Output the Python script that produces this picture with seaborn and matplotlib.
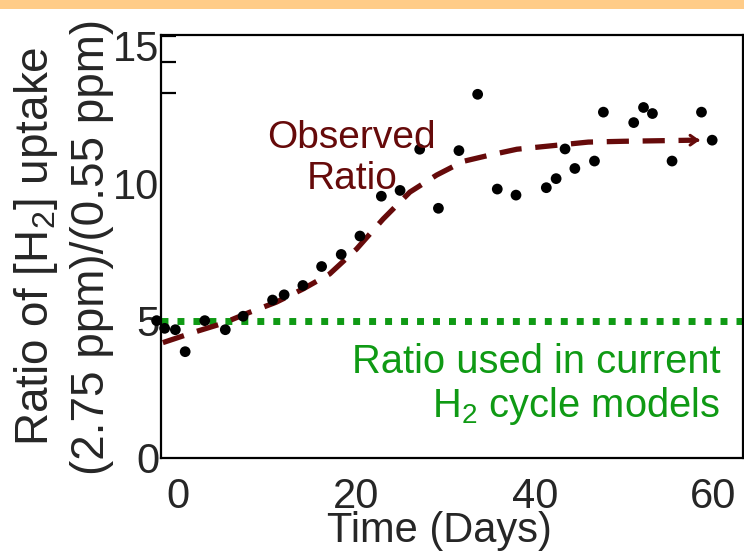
import numpy as np
import pandas as pd
import matplotlib
matplotlib.use("Agg")
import matplotlib.pyplot as plt
from matplotlib.patches import Rectangle
import seaborn as sns

# observed ratios (days, ratio)
days = [-2.4, -1.5, -0.3, 0.8, 3.0, 5.3, 7.3, 10.6, 11.9, 14.0, 16.1, 18.3, 20.4,
        22.8, 24.9, 27.1, 29.2, 31.5, 33.6, 35.8, 37.9, 41.3, 42.4, 43.4, 44.5,
        46.7, 47.7, 51.1, 52.2, 53.2, 55.4, 58.7, 59.9]
ratio = [5.0, 4.72, 4.67, 3.87, 5.0, 4.67, 5.16, 5.75, 5.94, 6.28, 6.97, 7.41, 8.08,
         9.53, 9.74, 11.24, 9.09, 11.19, 13.24, 9.79, 9.57, 9.84, 10.17, 11.25, 10.54,
         10.81, 12.59, 12.21, 12.76, 12.54, 10.81, 12.59, 11.57]

# fitted trend
fit_days = [-1.7, 2, 5, 8, 11, 14, 17, 20, 23, 26, 29, 32, 35, 38, 42, 46, 50, 54, 58]
fit_ratio = [4.2, 4.6, 4.9, 5.3, 5.67, 6.15, 6.7, 7.6, 8.7, 9.68, 10.3, 10.8, 11.03,
             11.24, 11.37, 11.5, 11.53, 11.55, 11.57]

model_ratio = 5.0
xticks = [0, 20, 40, 60]
yticks = [0, 5, 10, 15]

maroon = "#660a0a"
green = "#0f9a14"

sns.set_style("white")
plt.rcParams['font.family'] = ['Liberation Sans', 'DejaVu Sans']
plt.rcParams['mathtext.fontset'] = 'custom'
plt.rcParams['mathtext.rm'] = 'Liberation Sans'
plt.rcParams['mathtext.default'] = 'regular'

fig = plt.figure(figsize=(7.44, 5.55), dpi=100)
ax = fig.add_axes([0.2164, 0.1748, 0.7823, 0.7622])

df_obs = pd.DataFrame({"Day": days, "Ratio": ratio})
df_fit = pd.DataFrame({"Day": fit_days, "Ratio": fit_ratio})

ax.axhline(model_ratio, color=green, lw=5, dashes=(1, 1.3), zorder=1)

sns.lineplot(data=df_fit, x="Day", y="Ratio", ax=ax, color=maroon, lw=3.8,
             dashes=False, sort=False, zorder=2)
ax.lines[-1].set_dashes((4.2, 2.6))
ax.annotate("", xy=(58.5, fit_ratio[-1]), xytext=(58.2, fit_ratio[-1]),
            arrowprops=dict(arrowstyle="->,head_length=0.5,head_width=0.35",
                            color=maroon, lw=2.2))

sns.scatterplot(data=df_obs, x="Day", y="Ratio", ax=ax, color="black", s=60,
                edgecolor="none", zorder=3, clip_on=False)

ax.text(19.5, 10.9, "Observed\nRatio", color=maroon, fontsize=28,
        ha="center", va="center", linespacing=1.15)
ax.text(60.8, 2.66, "Ratio used in current\nH$_2$ cycle models", color=green,
        fontsize=28.7, ha="right", va="center", multialignment="right",
        linespacing=1.15)

ax.set_xlim(-1.91, 63.36)
ax.set_ylim(0, 15.4)
ax.set_xticks(xticks)
ax.set_yticks(yticks)
ax.set_yticks([13.3, 14.4, 15.35], minor=True)
ax.tick_params(axis="both", which="major", length=0, labelsize=30, pad=1)
ax.tick_params(axis="x", which="major", pad=14)
ax.tick_params(axis="y", which="minor", direction="in", length=11, width=1.6,
               left=True, color="black")

ax.set_xlabel("Time (Days)", fontsize=30)
ax.set_ylabel("Ratio of [H$_2$] uptake\n(2.75 ppm)/(0.55 ppm)", fontsize=33,
              linespacing=1.3)
ax.xaxis.set_label_coords(0.479, -0.125)
ax.yaxis.set_label_coords(-0.08, 0.5)

for side in ["left", "bottom", "top", "right"]:
    ax.spines[side].set_color("black")
    ax.spines[side].set_linewidth(1.6)

fig.patches.append(Rectangle((0, 1 - 9 / 555), 1, 9 / 555, transform=fig.transFigure,
                             facecolor="#ffcc88", edgecolor="none", zorder=5))

fig.savefig("out.png", dpi=100)
